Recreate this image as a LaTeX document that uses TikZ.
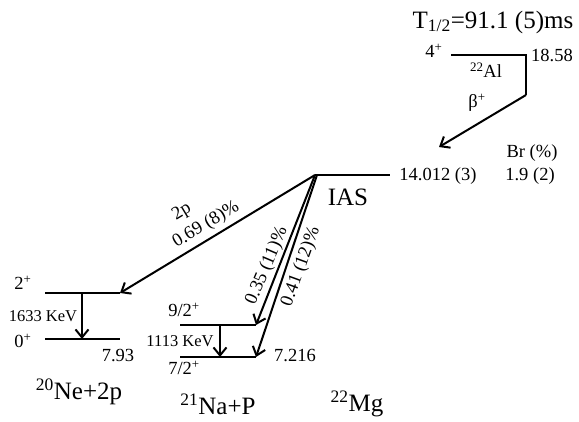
\documentclass[tikz,border=0pt]{standalone}
\usepackage{fontspec}
\setmainfont{Liberation Serif}
\usetikzlibrary{arrows.meta}
\begin{document}
\begin{tikzpicture}[x=1pt,y=-1pt,
 lvl/.style={line width=2pt},
 tr/.style={line width=2pt,-{Straight Barb[length=8pt,width=13pt,line width=2pt]}},
 lab/.style={font=\fontsize{18.5}{18.5}\selectfont, inner sep=0pt},
 big/.style={font=\fontsize{25}{25}\selectfont, inner sep=0pt},
 sml/.style={font=\fontsize{16.5}{16.5}\selectfont, inner sep=0pt}]
\useasboundingbox (0,0) rectangle (579,421);
% 22Al level
\coordinate (alL) at (451,55);
\coordinate (alR) at (526,55);
\coordinate (alD) at (526,95);
\coordinate (iasT) at (439,147);
\draw[lvl] (alL) -- (alR) -- (alD);
\draw[tr] (alD) -- (iasT);
\node[big] (thalf) at (493,22) {T\textsubscript{1/2}=91.1 (5)ms};
\node[lab] (j4) at (434,51) {4\textsuperscript{+}};
\node[lab] (e1858) at (552,55) {18.58};
\node[lab] (al) at (486,70) {\textsuperscript{22}Al};
\node[lab] (beta) at (477,103) {β\textsuperscript{+}};
% IAS
\coordinate (iasL) at (315,175);
\coordinate (iasL2) at (317,175);
\coordinate (iasR) at (390,175);
\draw[lvl] (iasL) -- (iasR);
\node[lab] (e14) at (438,176) {14.012 (3)};
\node[lab] (br) at (532,153) {Br (\%)};
\node[lab] (bv) at (530,176) {1.9 (2)};
\node[big] (ias) at (348,197) {IAS};
% 20Ne levels
\coordinate (ne2L) at (45,293);
\coordinate (ne2R) at (120,293);
\coordinate (ne0L) at (45,339);
\coordinate (ne0R) at (120,339);
\coordinate (ne2g) at (82,293);
\coordinate (ne0g) at (82,339);
\draw[lvl] (ne2L) -- (ne2R);
\draw[lvl] (ne0L) -- (ne0R);
\draw[tr] (ne2g) -- (ne0g);
\node[lab] (n2p) at (23,283) {2\textsuperscript{+}};
\node[lab] (n0p) at (23,341) {0\textsuperscript{+}};
\node[sml] (g1633) at (43,316) {1633 KeV};
\node[lab] (e793) at (118,356) {7.93};
\node[big] (ne) at (79,392) {\textsuperscript{20}Ne+2p};
% 21Na levels
\coordinate (na9L) at (180,325);
\coordinate (na9R) at (256,325);
\coordinate (na7L) at (180,357);
\coordinate (na7R) at (256,357);
\coordinate (na9g) at (220,325);
\coordinate (na7g) at (220,357);
\draw[lvl] (na9L) -- (na9R);
\draw[lvl] (na7L) -- (na7R);
\draw[tr] (na9g) -- (na7g);
\node[lab] (a9) at (184,310) {9/2\textsuperscript{+}};
\node[lab] (a7) at (184,368) {7/2\textsuperscript{+}};
\node[sml] (g1113) at (180,341) {1113 KeV};
\node[lab] (e7216) at (295,356) {7.216};
\node[big] (na) at (218,404) {\textsuperscript{21}Na+P};
\node[big] (mg) at (357,404) {\textsuperscript{22}Mg};
% transitions
\draw[tr] (iasL) -- (ne2R);
\draw[tr] (iasL) -- (na9R);
\draw[tr] (iasL2) -- (na7R);
\node[lab, rotate=31] (t2p) at (182,212) {2p};
\node[lab, rotate=31] (b2p) at (206,225) {0.69 (8)\%};
\node[lab, rotate=67] (b9) at (267,266) {0.35 (11)\%};
\node[lab, rotate=70] (b7) at (301,267) {0.41 (12)\%};
\end{tikzpicture}
\end{document}
